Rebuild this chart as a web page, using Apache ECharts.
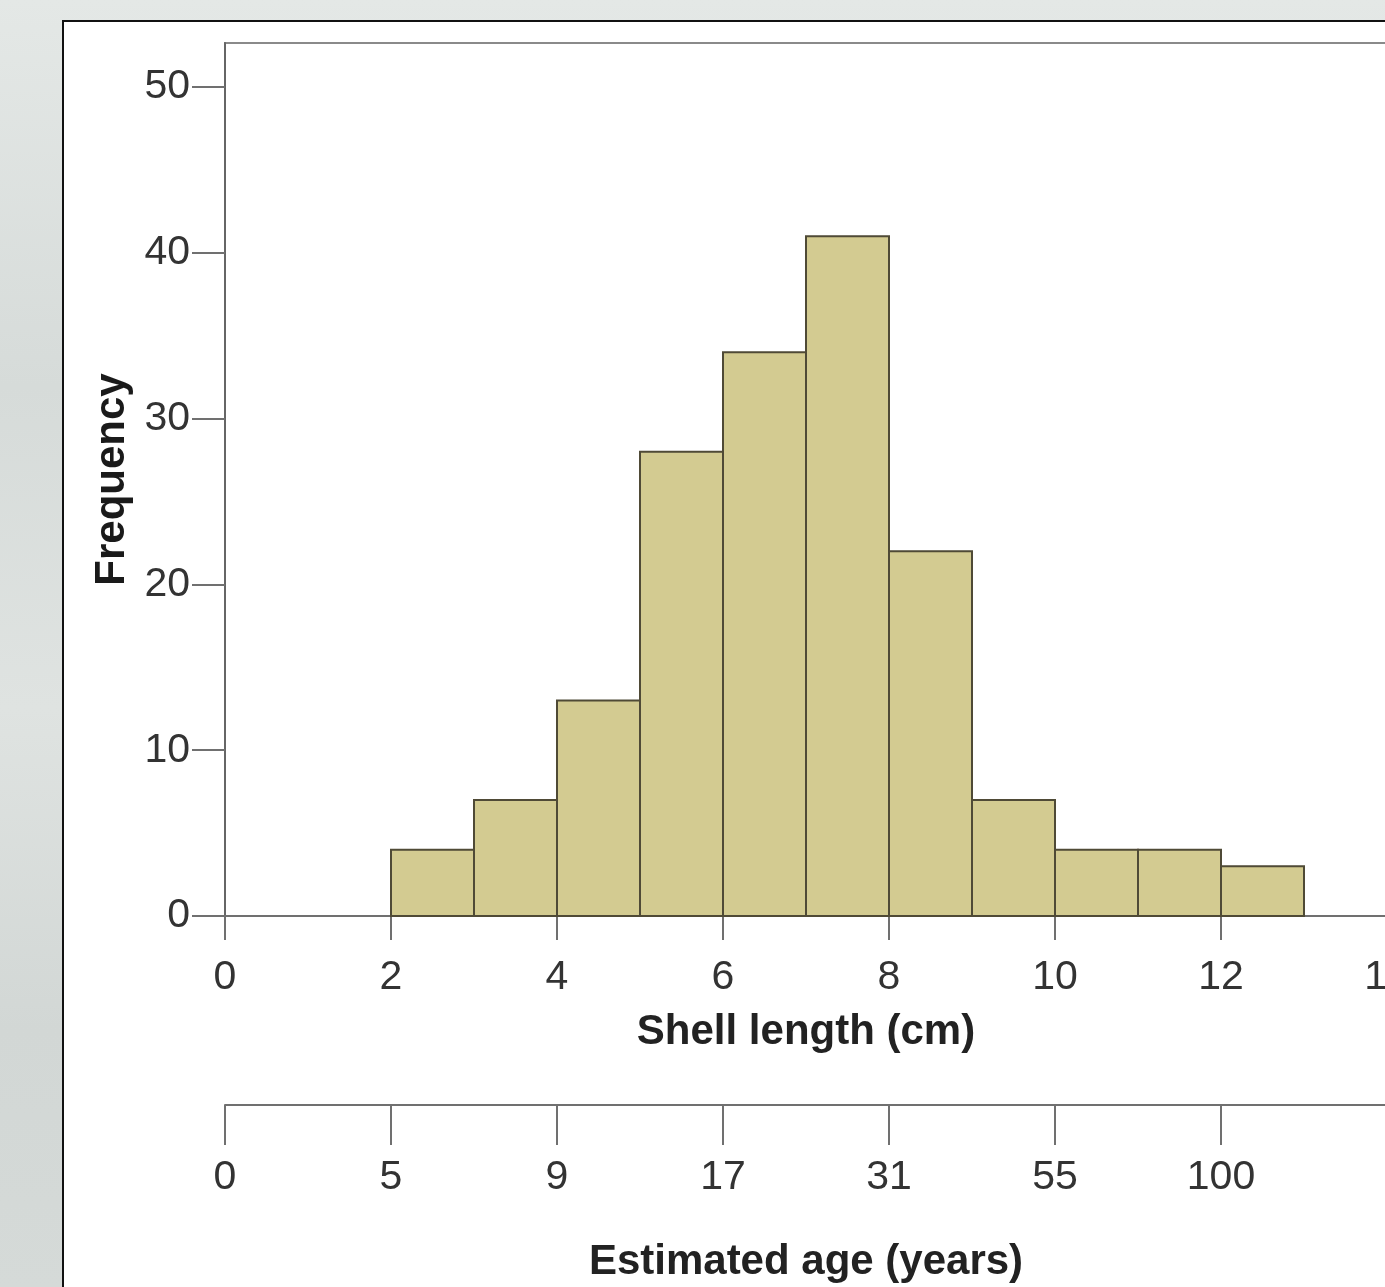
<!DOCTYPE html>
<html>
<head>
<meta charset="utf-8">
<script src="https://cdn.jsdelivr.net/npm/echarts@6/dist/echarts.min.js"></script>
<style>
  html, body { margin: 0; padding: 0; width: 1385px; height: 1287px; overflow: hidden; }
  body {
    background: linear-gradient(180deg, #e4e8e6 0%, #d6dbd9 30%, #dfe3e1 55%, #d2d7d5 80%, #d5dad8 100%);
    position: relative;
  }
  #panel {
    position: absolute; left: 62px; top: 20px; width: 1340px; height: 1265px;
    background: #ffffff;
    border-left: 2px solid #111; border-top: 2px solid #111; border-bottom: 1px solid #888;
  }
  #chart { position: absolute; left: 0; top: 0; width: 1385px; height: 1287px; }
</style>
</head>
<body>
<div id="panel"></div>
<div id="chart"></div>
<script>
// ---- data ----
var binStart = [2, 3, 4, 5, 6, 7, 8, 9, 10, 11, 12];
var binEnd   = [3, 4, 5, 6, 7, 8, 9, 10, 11, 12, 13];
var frequency = [4, 7, 13, 28, 34, 41, 22, 7, 4, 4, 3];
var yTicks = [0, 10, 20, 30, 40, 50];
var lengthTicks = [0, 2, 4, 6, 8, 10, 12, 14];
var ageLabels = ['0', '5', '9', '17', '31', '55', '100'];

var histData = binStart.map(function (s, i) { return [s, binEnd[i], frequency[i]]; });

var axisColor = '#707070';
var labelColor = '#333333';
var fontFam = '"Liberation Sans", Arial, sans-serif';

var chart = echarts.init(document.getElementById('chart'), null, { renderer: 'canvas' });
chart.setOption({
  backgroundColor: 'transparent',
  animation: false,
  grid: [
    { left: 225, top: 43, right: -2, bottom: 371, outerBoundsMode: 'none', containLabel: false, show: true, borderColor: '#8a8a8a', borderWidth: 2, backgroundColor: 'transparent' },
    { left: 225, top: 1104, right: -2, height: 1, outerBoundsMode: 'none', containLabel: false, show: false }
  ],
  xAxis: [
    {
      gridIndex: 0, type: 'value', min: 0, max: 14, interval: 2,
      name: 'Shell length (cm)', nameLocation: 'middle', nameGap: 95,
      nameTextStyle: { fontFamily: fontFam, fontSize: 42, fontWeight: 'bold', color: '#222' },
      axisLine: { show: true, onZero: false, lineStyle: { color: axisColor, width: 2 } },
      axisTick: { show: true, length: 24, lineStyle: { color: axisColor, width: 2 }, customValues: lengthTicks },
      axisLabel: { margin: 41, fontFamily: fontFam, fontSize: 41, color: labelColor, customValues: lengthTicks, showMaxLabel: true },
      splitLine: { show: false }
    },
    {
      gridIndex: 1, type: 'value', min: 0, max: 14, interval: 2, position: 'bottom',
      name: 'Estimated age (years)', nameLocation: 'middle', nameGap: 136,
      nameTextStyle: { fontFamily: fontFam, fontSize: 42, fontWeight: 'bold', color: '#222' },
      axisLine: { show: true, onZero: false, lineStyle: { color: axisColor, width: 2 } },
      axisTick: { show: true, length: 40, lineStyle: { color: axisColor, width: 2 } },
      axisLabel: {
        margin: 52, fontFamily: fontFam, fontSize: 41, color: labelColor,
        formatter: function (v) { var i = Math.round(v / 2); return ageLabels[i] !== undefined ? ageLabels[i] : ''; }
      },
      splitLine: { show: false }
    }
  ],
  yAxis: [
    {
      gridIndex: 0, type: 'value', min: 0, max: 52.65,
      name: 'Frequency', nameLocation: 'middle', nameGap: 83, nameRotate: 90,
      nameTextStyle: { fontFamily: fontFam, fontSize: 42, fontWeight: 'bold', color: '#1a1a1a' },
      axisLine: { show: true, onZero: false, lineStyle: { color: '#666', width: 2 } },
      axisTick: { show: true, length: 33, lineStyle: { color: axisColor, width: 2 }, customValues: yTicks },
      axisLabel: { margin: 35, fontFamily: fontFam, fontSize: 41, color: labelColor, customValues: yTicks },
      splitLine: { show: false }
    },
    { gridIndex: 1, type: 'value', min: 0, max: 1, show: false }
  ],
  series: [
    {
      type: 'custom',
      xAxisIndex: 0, yAxisIndex: 0,
      data: histData,
      encode: { x: [0, 1], y: 2 },
      renderItem: function (params, api) {
        var p0 = api.coord([api.value(0), api.value(2)]);
        var p1 = api.coord([api.value(1), 0]);
        return {
          type: 'rect',
          shape: { x: p0[0], y: p0[1], width: p1[0] - p0[0], height: p1[1] - p0[1] },
          style: { fill: '#d3cb91', stroke: '#4f4a36', lineWidth: 2 }
        };
      }
    }
  ]
});
</script>
</body>
</html>
